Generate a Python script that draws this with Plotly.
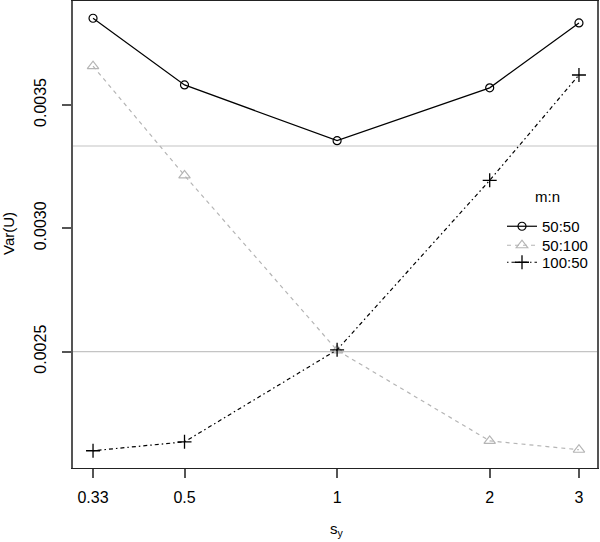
import plotly.graph_objects as go

sy = [0.33, 0.5, 1, 2, 3]
tick_labels = ["0.33", "0.5", "1", "2", "3"]
var_50_50 = [0.003851, 0.003581, 0.003355, 0.003569, 0.003832]
var_50_100 = [0.003657, 0.003214, 0.002505, 0.002138, 0.002102]
var_100_50 = [0.002098, 0.002134, 0.002507, 0.003194, 0.003621]
ref_lines = [1 / 300, 1 / 400]

font = "Liberation Sans, Arial, sans-serif"
L, R, T, B = 73, 3, 1, 74
W, H = 600, 542
plot_w = W - L - R
plot_h = H - T - B


def px(xp):
    return (xp - L) / plot_w


def py(yp):
    return (H - B - yp) / plot_h


fig = go.Figure()
fig.add_trace(go.Scatter(
    x=sy, y=var_50_50, name="50:50", mode="lines+markers", legend="legend",
    line=dict(color="black", width=1.2, dash="solid"),
    marker=dict(symbol="circle-open", size=8, color="black", line=dict(width=1.2)),
))
fig.add_trace(go.Scatter(
    x=sy, y=var_50_100, name="50:100", mode="lines+markers", legend="legend2",
    line=dict(color="#b5b5b5", width=1.2, dash="4px,4px"),
    marker=dict(symbol="triangle-up-open", size=10, color="#b5b5b5", line=dict(width=1.2)),
))
fig.add_trace(go.Scatter(
    x=sy, y=var_100_50, name="100:50", mode="lines+markers", legend="legend3",
    line=dict(color="black", width=1.2, dash="1.5px,3px,4px,3px"),
    marker=dict(symbol="cross-thin-open", size=10, color="black", line=dict(width=1.3, color="black")),
))

for v in ref_lines:
    fig.add_shape(type="line", xref="paper", x0=0, x1=1, yref="y", y0=v, y1=v,
                  line=dict(color="#c4c4c4", width=1.2), layer="below")

fig.add_annotation(x=px(547), y=py(197), xref="paper", yref="paper", text="m:n",
                   xanchor="center", yanchor="middle",
                   showarrow=False, font=dict(family=font, size=15, color="black"))
fig.add_annotation(x=px(8), y=py(234), xref="paper", yref="paper", text="Var(U)",
                   xanchor="center", yanchor="middle",
                   showarrow=False, textangle=-90, font=dict(family=font, size=15, color="black"))
fig.add_annotation(x=px(337), y=py(529), xref="paper", yref="paper", text="s<sub>y</sub>",
                   xanchor="center", yanchor="middle",
                   showarrow=False, font=dict(family=font, size=15, color="black"))

leg_common = dict(xanchor="left", yanchor="top", font=dict(family=font, size=15),
                  bgcolor="rgba(0,0,0,0)", itemwidth=30)
leg_x = px(502)

fig.update_layout(
    width=W, height=H,
    margin=dict(l=L, r=R, t=T, b=B, autoexpand=False),
    plot_bgcolor="white", paper_bgcolor="white",
    font=dict(family=font, size=15, color="black"),
    showlegend=True,
    legend=dict(x=leg_x, y=py(210), **leg_common),
    legend2=dict(x=leg_x, y=py(229), **leg_common),
    legend3=dict(x=leg_x, y=py(246), **leg_common),
    xaxis=dict(
        type="log", range=[-0.521, 0.5127], automargin=False,
        tickvals=sy, ticktext=tick_labels, tickfont=dict(size=16),
        ticks="outside", ticklen=9, tickcolor="#555", tickwidth=1.5,
        showgrid=False, zeroline=False,
        showline=True, linecolor="#222", linewidth=1.2, mirror=True,
        ticklabelstandoff=6,
    ),
    yaxis=dict(
        range=[0.002028, 0.003921], automargin=False,
        tickvals=[0.0025, 0.0030, 0.0035], ticktext=["0.0025", "0.0030", "0.0035"],
        tickangle=-90, tickfont=dict(size=16),
        ticks="outside", ticklen=9, tickcolor="#555", tickwidth=1.5,
        showgrid=False, zeroline=False,
        showline=True, linecolor="#555", linewidth=1.5, mirror=True,
        ticklabelstandoff=10,
    ),
)

fig.write_html("out.html", config={"displayModeBar": False},
               post_script="document.body.style.margin='0';")
